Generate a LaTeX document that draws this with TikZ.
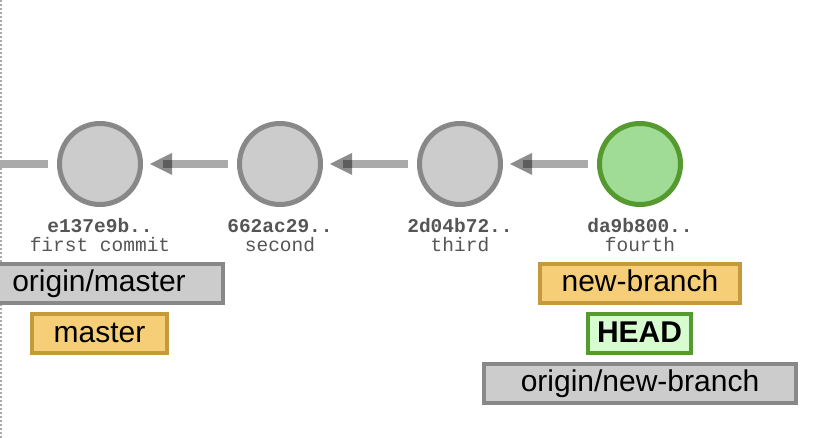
\documentclass[tikz,border=0pt]{standalone}
\usepackage{fontspec}
\setmainfont{Liberation Sans}
\newfontfamily\monofont{Liberation Mono}
\usetikzlibrary{calc}
\definecolor{cgray}{HTML}{CCCCCC}
\definecolor{cgrayd}{HTML}{888888}
\definecolor{stemgray}{HTML}{AAAAAA}
\definecolor{cgreen}{HTML}{A0DC96}
\definecolor{cgreend}{HTML}{559A2F}
\definecolor{borange}{HTML}{F7CE78}
\definecolor{borangd}{HTML}{C59A3A}
\definecolor{bgreen}{HTML}{D6FCD0}
\definecolor{txtgray}{HTML}{555555}
\tikzset{
  commit/.style={circle, minimum size=81pt, inner sep=0pt, line width=5pt, draw=cgrayd, fill=cgray},
  headcommit/.style={commit, draw=cgreend, fill=cgreen},
  stem/.style={draw=stemgray, line width=7.5pt},
  tipfill/.style={fill=black, fill opacity=0.45},
  hashlbl/.style={anchor=base, inner sep=0pt, font=\monofont\bfseries\fontsize{19.5}{22}\selectfont, text=txtgray},
  msglbl/.style={anchor=base, inner sep=0pt, font=\monofont\fontsize{19.5}{22}\selectfont, text=txtgray},
  reflbl/.style={rectangle, inner sep=0pt, line width=4pt, minimum height=39pt, text height=22pt, text depth=5pt, font=\fontsize{30}{34}\selectfont, text=black},
  remoteref/.style={reflbl, draw=cgrayd, fill=cgray},
  localref/.style={reflbl, draw=borangd, fill=borange},
  headref/.style={reflbl, draw=cgreend, fill=bgreen, font=\bfseries\fontsize{30}{34}\selectfont},
  divider/.style={draw=stemgray, line width=2pt, dash pattern=on 2pt off 2pt}
}
\begin{document}
\begin{tikzpicture}[x=1pt,y=-1pt]
\useasboundingbox (0,0) rectangle (820,438);
\fill[white] (0,0) rectangle (820,438);
\coordinate (dtop) at (1,0);
\coordinate (dbot) at (1,438);
\draw[divider] (dtop) -- (dbot);

\node[commit] (c1) at (100,164) {};
\node[commit] (c2) at (280,164) {};
\node[commit] (c3) at (460,164) {};
\node[headcommit] (c4) at (640,164) {};

\coordinate (stub) at (0,164);
\draw[stem] (stub) -- ([xshift=-9pt]c1.west);

\foreach \a/\b in {c1/c2, c2/c3, c3/c4}{
  \draw[stem] ([xshift=-9pt]\b.west) -- ([xshift=20pt]\a.east);
  \fill[tipfill] ([xshift=7pt]\a.east) -- ++(22,-11) -- ++(0,22) -- cycle;
}

\node[hashlbl] (h1) at (100,233) {e137e9b..};
\node[msglbl]  (m1) at (100,252) {first commit};
\node[hashlbl] (h2) at (280,233) {662ac29..};
\node[msglbl]  (m2) at (280,252) {second};
\node[hashlbl] (h3) at (460,233) {2d04b72..};
\node[msglbl]  (m3) at (460,252) {third};
\node[hashlbl] (h4) at (640,233) {da9b800..};
\node[msglbl]  (m4) at (640,252) {fourth};

\node[remoteref, minimum width=248pt] (om) at (99,283.5) {origin/master};
\node[localref, minimum width=135pt] (ms) at (99.5,334) {master};
\node[localref, minimum width=200pt] (nb) at (640,283.5) {new-branch};
\node[headref, minimum width=103pt] (hd) at (639.5,334) {HEAD};
\node[remoteref, minimum width=312pt] (onb) at (640,383.5) {origin/new-branch};
\end{tikzpicture}
\end{document}
